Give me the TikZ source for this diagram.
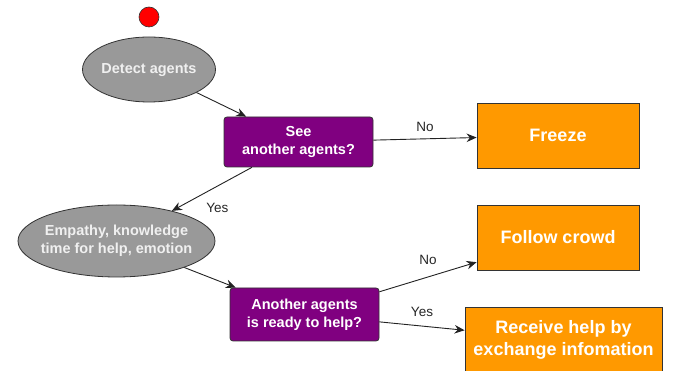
\documentclass[tikz,border=0pt]{standalone}
\usepackage{fontspec}
\setmainfont{Liberation Sans}
\usetikzlibrary{shapes.geometric,arrows.meta}

\definecolor{stategray}{HTML}{999999}
\definecolor{decision}{HTML}{800080}
\definecolor{outcome}{HTML}{FF9900}
\definecolor{edgeline}{HTML}{222222}
\definecolor{borderline}{HTML}{333333}

% zero-width centred block so the ellipse keeps its own size
\newcommand{\ztext}[1]{\makebox[0pt]{\begin{tabular}{@{}c@{}}#1\end{tabular}}}

\tikzset{
  startdot/.style={circle, fill=red, draw=borderline, line width=0.6pt,
    minimum size=20pt, inner sep=0pt},
  statenode/.style={ellipse, fill=stategray, draw=borderline, line width=0.8pt,
    inner sep=0pt, text=white!94!black,
    font=\bfseries\fontsize{14.5}{18}\selectfont},
  decisionbox/.style={rectangle, rounded corners=3pt, fill=decision,
    draw=borderline, line width=0.8pt, inner sep=0pt, minimum width=149pt,
    text=white, align=center, font=\bfseries\fontsize{14.5}{18}\selectfont},
  outcomebox/.style={rectangle, fill=outcome, draw=borderline,
    line width=0.8pt, inner sep=0pt, minimum width=162pt, minimum height=65pt,
    text=white, align=center, font=\bfseries\fontsize{18}{22}\selectfont},
  flow/.style={draw=edgeline, line width=0.9pt,
    -{Stealth[length=10pt,width=8.5pt]}},
  edgelabel/.style={inner sep=0pt, text=black!85,
    font=\fontsize{13.5}{16}\selectfont},
}

\begin{document}
\begin{tikzpicture}[x=1pt, y=-1pt]
  \useasboundingbox (0,0) rectangle (673,371);

  \node[startdot] (start) at (149,17) {};

  \node[statenode, minimum width=133pt, minimum height=65pt]
    (detect) at (149,69.5) {\ztext{Detect agents}};

  \node[decisionbox, minimum height=50pt] (see) at (298.5,142)
    {See\\another agents?};

  \node[outcomebox] (freeze) at (558,135.5) {Freeze};

  \node[statenode, minimum width=197pt, minimum height=72pt]
    (empathy) at (116.5,241) {\ztext{Empathy, knowledge\\time for help, emotion}};

  \node[decisionbox, minimum height=53pt] (ready) at (304.5,314.5)
    {Another agents\\is ready to help?};

  \node[outcomebox] (follow) at (558,237.5) {Follow crowd};

  \node[outcomebox, minimum width=197pt, minimum height=66pt]
    (receive) at (563.5,340) {Receive help by\\exchange infomation};

  \draw[flow] (detect) -- (see);
  \draw[flow] (see) -- node[edgelabel, pos=0.5, above=7pt] (lno1) {No} (freeze);
  \draw[flow] (see) -- node[edgelabel, pos=0.43, below=17pt] (lyes1) {Yes} (empathy);
  \draw[flow] (empathy) -- (ready);
  \draw[flow] (ready) -- node[edgelabel, pos=0.5, above=12pt] (lno2) {No} (follow);
  \draw[flow] (ready) -- node[edgelabel, pos=0.5, above=9pt] (lyes2) {Yes} (receive);
\end{tikzpicture}
\end{document}
